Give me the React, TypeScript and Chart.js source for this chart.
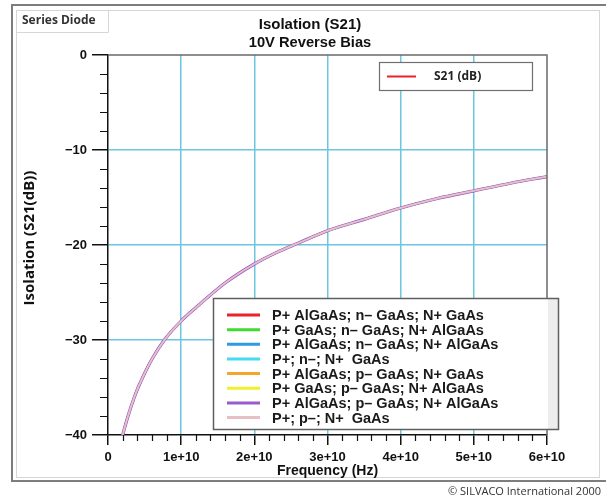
import React, { useEffect, useRef } from 'react';
import { Chart, registerables } from 'chart.js';

Chart.register(...registerables);

// ---- data ----
const freqGHz = [2.0, 2.7, 3.8, 4.7, 6.1, 7.8, 10, 12, 16, 20, 23, 26, 30, 35, 40, 45, 50, 55, 60];
const s21dB = [-40.0, -38.1, -35.6, -34.0, -31.9, -29.9, -28.0, -26.6, -24.0, -22.0, -20.8, -19.8, -18.5, -17.3, -16.1, -15.1, -14.3, -13.5, -12.8];

const seriesLabels = [
  'P+ AlGaAs; n– GaAs; N+ GaAs',
  'P+ GaAs; n– GaAs; N+ AlGaAs',
  'P+ AlGaAs; n– GaAs; N+ AlGaAs',
  'P+; n–; N+  GaAs',
  'P+ AlGaAs; p– GaAs; N+ GaAs',
  'P+ GaAs; p– GaAs; N+ AlGaAs',
  'P+ AlGaAs; p– GaAs; N+ AlGaAs',
  'P+; p–; N+  GaAs',
];
const seriesColors = ['#e8232a', '#3ddc2f', '#2e9ae6', '#45dcef', '#f4a52a', '#f2ef2c', '#9a5ad2', '#e6c0c3'];

const xTickLabels = ['0', '1e+10', '2e+10', '3e+10', '4e+10', '5e+10', '6e+10'];
const yTickLabels = ['−40', '−30', '−20', '−10', '0'];

const titleLines = ['Isolation (S21)', '10V Reverse Bias'];
const xTitle = 'Frequency (Hz)';
const yTitle = 'Isolation (S21(dB))';
const tabLabel = 'Series Diode';
const topLegendLabel = 'S21 (dB)';
const copyright = '© SILVACO International 2000';

const GRID = '#6cc6df';
const AXIS = '#111111';
const ARIAL = '"Liberation Sans", Arial, sans-serif';
const SEGOE = '"Open Sans", "Noto Sans", sans-serif';

const isMajorX = (v: number) => Math.abs(v / 1e10 - Math.round(v / 1e10)) < 1e-6;
const isMajorY = (v: number) => Math.abs(v / 10 - Math.round(v / 10)) < 1e-6;

const decor = {
  id: 'decor',
  beforeDraw(chart: any) {
    const ctx = chart.ctx;
    ctx.save();
    ctx.fillStyle = '#ffffff';
    ctx.fillRect(0, 0, chart.width, chart.height);
    // outer frame
    ctx.strokeStyle = '#7d7d7d';
    ctx.lineWidth = 2;
    ctx.beginPath();
    ctx.moveTo(620, 5);
    ctx.lineTo(12, 5);
    ctx.lineTo(12, 481);
    ctx.lineTo(620, 481);
    ctx.stroke();
    // inner panel
    ctx.strokeStyle = '#d6d6d6';
    ctx.lineWidth = 1;
    ctx.strokeRect(16.5, 10.5, 583, 467);
    // tab
    ctx.beginPath();
    ctx.moveTo(16.5, 32.5);
    ctx.lineTo(108.5, 32.5);
    ctx.lineTo(108.5, 10.5);
    ctx.stroke();
    ctx.fillStyle = '#333333';
    ctx.font = `bold 12px ${SEGOE}`;
    ctx.textAlign = 'left';
    ctx.textBaseline = 'middle';
    ctx.fillText(tabLabel, 22, 21);
    // title
    ctx.fillStyle = AXIS;
    ctx.textAlign = 'center';
    ctx.font = `bold 15px ${ARIAL}`;
    ctx.fillText(titleLines[0], 310, 25);
    ctx.font = `bold 14.7px ${ARIAL}`;
    ctx.fillText(titleLines[1], 310, 43);
    // y title
    ctx.save();
    ctx.translate(30, 238);
    ctx.rotate(-Math.PI / 2);
    ctx.font = `bold 15px ${SEGOE}`;
    ctx.fillText(yTitle, 0, 0);
    ctx.restore();
    // copyright
    ctx.fillStyle = '#333333';
    ctx.font = `11px ${SEGOE}`;
    ctx.textAlign = 'right';
    ctx.fillText(copyright, 601, 492);
    ctx.restore();
  },
  afterDraw(chart: any) {
    const ctx = chart.ctx;
    const { left, right, top, bottom } = chart.chartArea;
    const xs = chart.scales.x;
    const ys = chart.scales.y;
    ctx.save();
    // plot box top/right
    ctx.strokeStyle = '#6a6a6a';
    ctx.lineWidth = 1.5;
    ctx.beginPath();
    ctx.moveTo(left, top);
    ctx.lineTo(right, top);
    ctx.lineTo(right, bottom);
    ctx.stroke();
    // minor ticks
    ctx.strokeStyle = AXIS;
    ctx.lineWidth = 1.2;
    ctx.beginPath();
    for (let v = -40; v <= 0; v += 2) {
      if (isMajorY(v)) continue;
      const y = Math.round(ys.getPixelForValue(v)) + 0.5;
      ctx.moveTo(left - 8, y);
      ctx.lineTo(left, y);
    }
    for (let i = 0; i <= 30; i++) {
      const v = i * 2e9;
      if (isMajorX(v)) continue;
      const x = Math.round(xs.getPixelForValue(v)) + 0.5;
      ctx.moveTo(x, bottom);
      ctx.lineTo(x, bottom + 6);
    }
    ctx.stroke();

    // top-right legend
    ctx.fillStyle = '#ffffff';
    ctx.fillRect(379.5, 62.5, 153, 28);
    ctx.strokeStyle = '#6f6f6f';
    ctx.lineWidth = 1.2;
    ctx.strokeRect(379.5, 62.5, 153, 28);
    ctx.strokeStyle = '#e8232a';
    ctx.lineWidth = 2;
    ctx.beginPath();
    ctx.moveTo(387, 76.5);
    ctx.lineTo(416, 76.5);
    ctx.stroke();
    ctx.fillStyle = '#222222';
    ctx.font = `bold 12px ${SEGOE}`;
    ctx.textAlign = 'left';
    ctx.textBaseline = 'middle';
    ctx.fillText(topLegendLabel, 434, 77);

    // series legend
    ctx.fillStyle = '#ffffff';
    ctx.fillRect(213.5, 298.5, 345, 131);
    ctx.fillStyle = '#ededed';
    ctx.fillRect(548, 299, 10, 130);
    ctx.strokeStyle = '#5f5f5f';
    ctx.lineWidth = 1.5;
    ctx.strokeRect(213.5, 298.5, 345, 131);
    chart.data.datasets.forEach((ds: any, i: number) => {
      const y = 315 + i * 14.65;
      ctx.strokeStyle = ds.borderColor;
      ctx.lineWidth = 3;
      ctx.beginPath();
      ctx.moveTo(227, y);
      ctx.lineTo(260, y);
      ctx.stroke();
      ctx.fillStyle = '#1a1a1a';
      ctx.font = `bold 14.5px ${ARIAL}`;
      ctx.fillText(ds.label, 272, y + 1);
    });
    ctx.restore();
  },
};

export default function App() {
  const ref = useRef<HTMLCanvasElement | null>(null);
  useEffect(() => {
    if (!ref.current) return;
    const chart = new Chart(ref.current, {
      type: 'line',
      data: {
        datasets: seriesLabels.map((label, i) => ({
          label,
          data: freqGHz.map((f, j) => ({ x: f * 1e9, y: s21dB[j] })),
          borderColor: seriesColors[i],
          borderWidth: i === 6 ? 3.2 : 2,
          pointRadius: 0,
          fill: false,
          order: seriesLabels.length - 1 - i,
          cubicInterpolationMode: 'monotone' as const,
        })),
      },
      options: {
        animation: false,
        responsive: false,
        layout: { padding: { left: 16, top: 55, right: 59, bottom: 20 } },
        plugins: { legend: { display: false }, tooltip: { enabled: false }, title: { display: false } },
        scales: {
          x: {
            type: 'linear',
            min: 0,
            max: 6e10,
            ticks: {
              stepSize: 2e9,
              autoSkip: false,
              maxRotation: 0,
              padding: 5,
              color: AXIS,
              font: { family: ARIAL, weight: 'bold', size: 13 },
              callback: (v: any) => (isMajorX(Number(v)) ? xTickLabels[Math.round(Number(v) / 1e10)] : ''),
            },
            grid: {
              color: (c: any) => {
                const v = c.tick ? c.tick.value : 0;
                return isMajorX(v) && v > 0 && v < 6e10 ? GRID : 'transparent';
              },
              lineWidth: 1.5,
              tickLength: 10,
              tickColor: (c: any) => (c.tick && isMajorX(c.tick.value) ? AXIS : 'transparent'),
              tickWidth: 1.5,
            },
            border: { color: AXIS, width: 1.5 },
            title: { display: true, text: xTitle, color: AXIS, font: { family: ARIAL, weight: 'bold', size: 14 }, padding: { top: 0, bottom: 0 } },
            afterFit: (s: any) => { s.height = 45; },
          },
          y: {
            type: 'linear',
            min: -40,
            max: 0,
            ticks: {
              stepSize: 2,
              autoSkip: false,
              padding: 5,
              color: AXIS,
              font: { family: ARIAL, weight: 'bold', size: 13 },
              callback: (v: any) => (isMajorY(Number(v)) ? yTickLabels[Math.round((Number(v) + 40) / 10)] : ''),
            },
            grid: {
              color: (c: any) => {
                const v = c.tick ? c.tick.value : 0;
                return isMajorY(v) && v > -40 && v < 0 ? GRID : 'transparent';
              },
              lineWidth: 1.5,
              tickLength: 16,
              tickColor: (c: any) => (c.tick && isMajorY(c.tick.value) ? AXIS : 'transparent'),
              tickWidth: 1.5,
            },
            border: { color: AXIS, width: 1.5 },
            afterFit: (s: any) => { s.width = 92; },
          },
        },
      } as any,
      plugins: [decor],
    });
    return () => chart.destroy();
  }, []);
  return (
    <div style={{ position: 'absolute', left: 0, top: 0, width: 606, height: 500 }}>
      <canvas ref={ref} width={606} height={500} />
    </div>
  );
}
